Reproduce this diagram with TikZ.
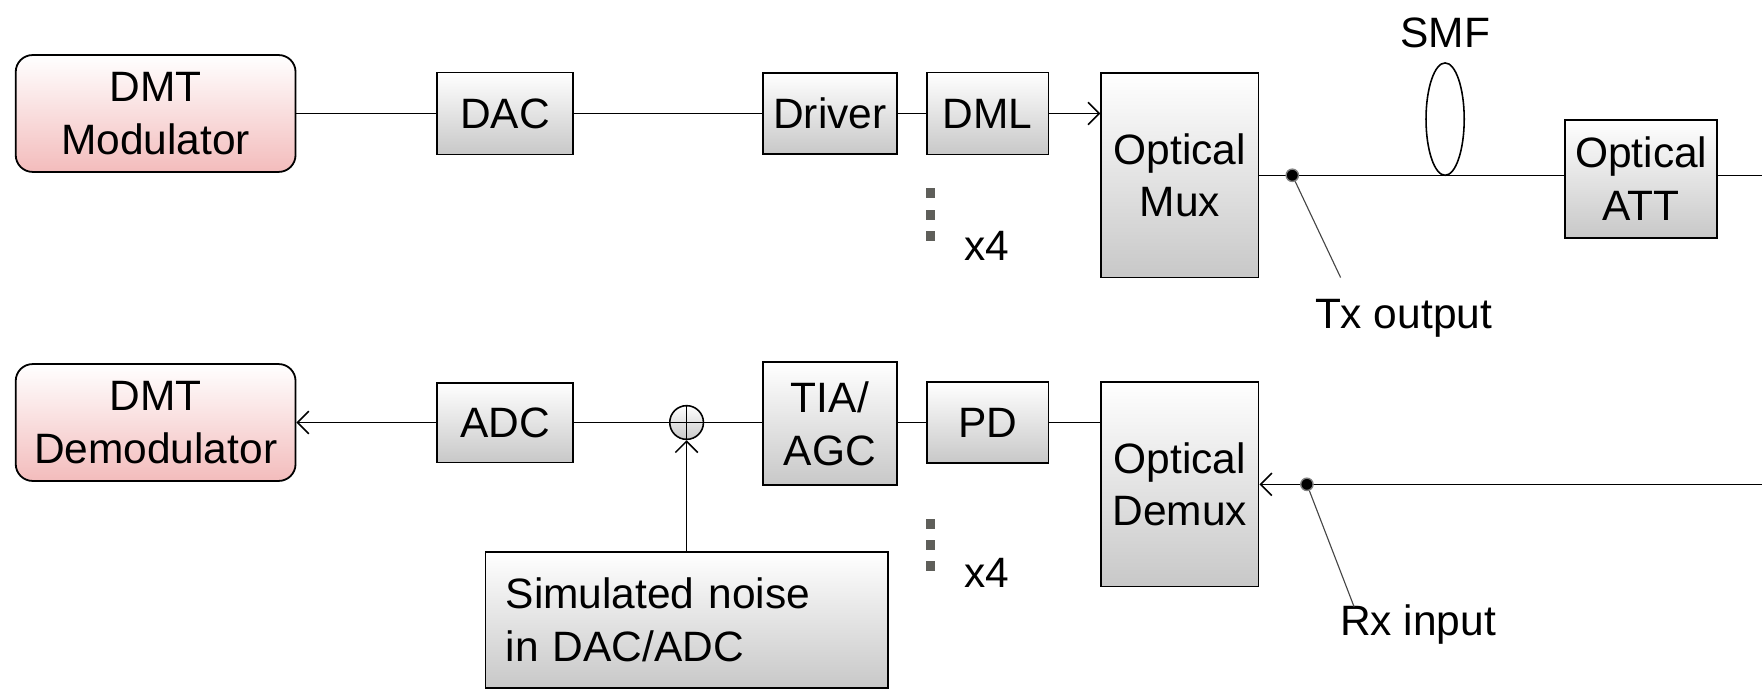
\documentclass[tikz,border=0pt]{standalone}
\usepackage{fontspec}
\setmainfont{Liberation Sans}
\usetikzlibrary{arrows.meta,shapes.geometric}
\definecolor{boxgray}{RGB}{200,200,200}
\definecolor{dmtpink}{RGB}{243,188,188}
\definecolor{dotgray}{RGB}{95,95,90}
\definecolor{leadgray}{RGB}{70,70,70}
\begin{document}
\begin{tikzpicture}[x=0.5pt,y=-0.5pt,
  font=\fontsize{18.9}{23.5}\selectfont,
  blk/.style={draw=black, line width=0.8pt, top color=white, bottom color=boxgray, align=center, inner sep=0pt},
  dmt/.style={blk, rounded corners=7.5pt, bottom color=dmtpink, minimum width=124.5pt, minimum height=52pt},
  wire/.style={line width=0.7pt},
  arr/.style={wire, -{Straight Barb[length=5pt,width=10pt]}},
  lead/.style={draw=leadgray, line width=0.5pt},
  vdot/.style={fill=dotgray, minimum width=4pt, minimum height=4.5pt, inner sep=0pt},
  tap/.style={circle, fill=black, draw=gray, line width=0.6pt, minimum size=5.5pt, inner sep=0pt},
  lbl/.style={inner sep=0pt}
]
\useasboundingbox (0,0) rectangle (1568,613);

% top row
\node[dmt] (mod) at (138.5,101) {DMT\\Modulator};
\node[blk, minimum width=60.5pt, minimum height=36.5pt] (dac) at (449.5,101) {DAC};
\node[blk, minimum width=59.5pt, minimum height=36pt] (drv) at (738.5,101) {Driver};
\node[blk, minimum width=54pt, minimum height=36.5pt] (dml) at (879,101) {DML};
\node[blk, minimum width=70pt, minimum height=91pt] (mux) at (1050,156) {Optical\\Mux};
\node[blk, minimum width=67.5pt, minimum height=52.5pt] (att) at (1460.5,159) {Optical\\ATT};
\coordinate (redge) at (1568,156);

\draw[wire] (mod.east) -- (dac.west);
\draw[wire] (dac.east) -- (drv.west);
\draw[wire] (drv.east) -- (dml.west);
\draw[arr] (dml.east) -- (dml.east -| mux.west);
\draw[wire] (mux.east) -- (mux.east -| att.west);
\draw[wire] (att.east |- redge) -- (redge);

\node[ellipse, draw=black, line width=0.7pt, minimum width=17pt, minimum height=50pt, inner sep=0pt] (smf) at (1286,106) {};
\node[lbl] (smflab) at (1286,29) {SMF};

\node[tap] (txdot) at (1150,156) {};
\coordinate (txend) at (1193,247);
\node[lbl] (txlab) at (1249,283) {Tx output};
\draw[lead] (txdot) -- (txend);

\node[vdot] (d1) at (828,172) {};
\node[vdot] (d2) at (828,191) {};
\node[vdot] (d3) at (828,210) {};
\node[lbl] (x4a) at (878,219) {x4};

% bottom row
\node[dmt] (demod) at (138.5,376) {DMT\\Demodulator};
\node[blk, minimum width=60.5pt, minimum height=35.5pt] (adc) at (449.5,376) {ADC};
\node[circle, draw=black, line width=0.7pt, top color=white, bottom color=boxgray, minimum size=15pt, inner sep=0pt] (sum) at (611,376) {};
\draw[wire] (sum.north) -- (sum.south) (sum.west) -- (sum.east);
\node[blk, minimum width=59.5pt, minimum height=54.5pt] (tia) at (738.5,377) {TIA/\\AGC};
\node[blk, minimum width=54pt, minimum height=36pt] (pd) at (879,376) {PD};
\node[blk, minimum width=70pt, minimum height=91pt] (demux) at (1050,431) {Optical\\Demux};
\node[blk, align=left, text width=161pt, inner xsep=9pt, minimum height=60.5pt] (noise) at (611,551.5) {Simulated noise\\in DAC/ADC};
\coordinate (rin) at (1568,431);

\draw[arr] (adc.west) -- (adc.west -| demod.east);
\draw[wire] (adc.east) -- (sum.west);
\draw[wire] (sum.east) -- (sum.east -| tia.west);
\draw[wire] (tia.east |- pd.west) -- (pd.west);
\draw[wire] (pd.east) -- (pd.east -| demux.west);
\draw[arr] (noise.north) -- (sum.south);
\draw[arr] (rin) -- (demux.east);

\node[tap] (rxdot) at (1163,431) {};
\coordinate (rxend) at (1205,540);
\node[lbl] (rxlab) at (1262,556) {Rx input};
\draw[lead] (rxdot) -- (rxend);

\node[vdot] (e1) at (828,466) {};
\node[vdot] (e2) at (828,485) {};
\node[vdot] (e3) at (828,504) {};
\node[lbl] (x4b) at (878,510) {x4};
\end{tikzpicture}
\end{document}
